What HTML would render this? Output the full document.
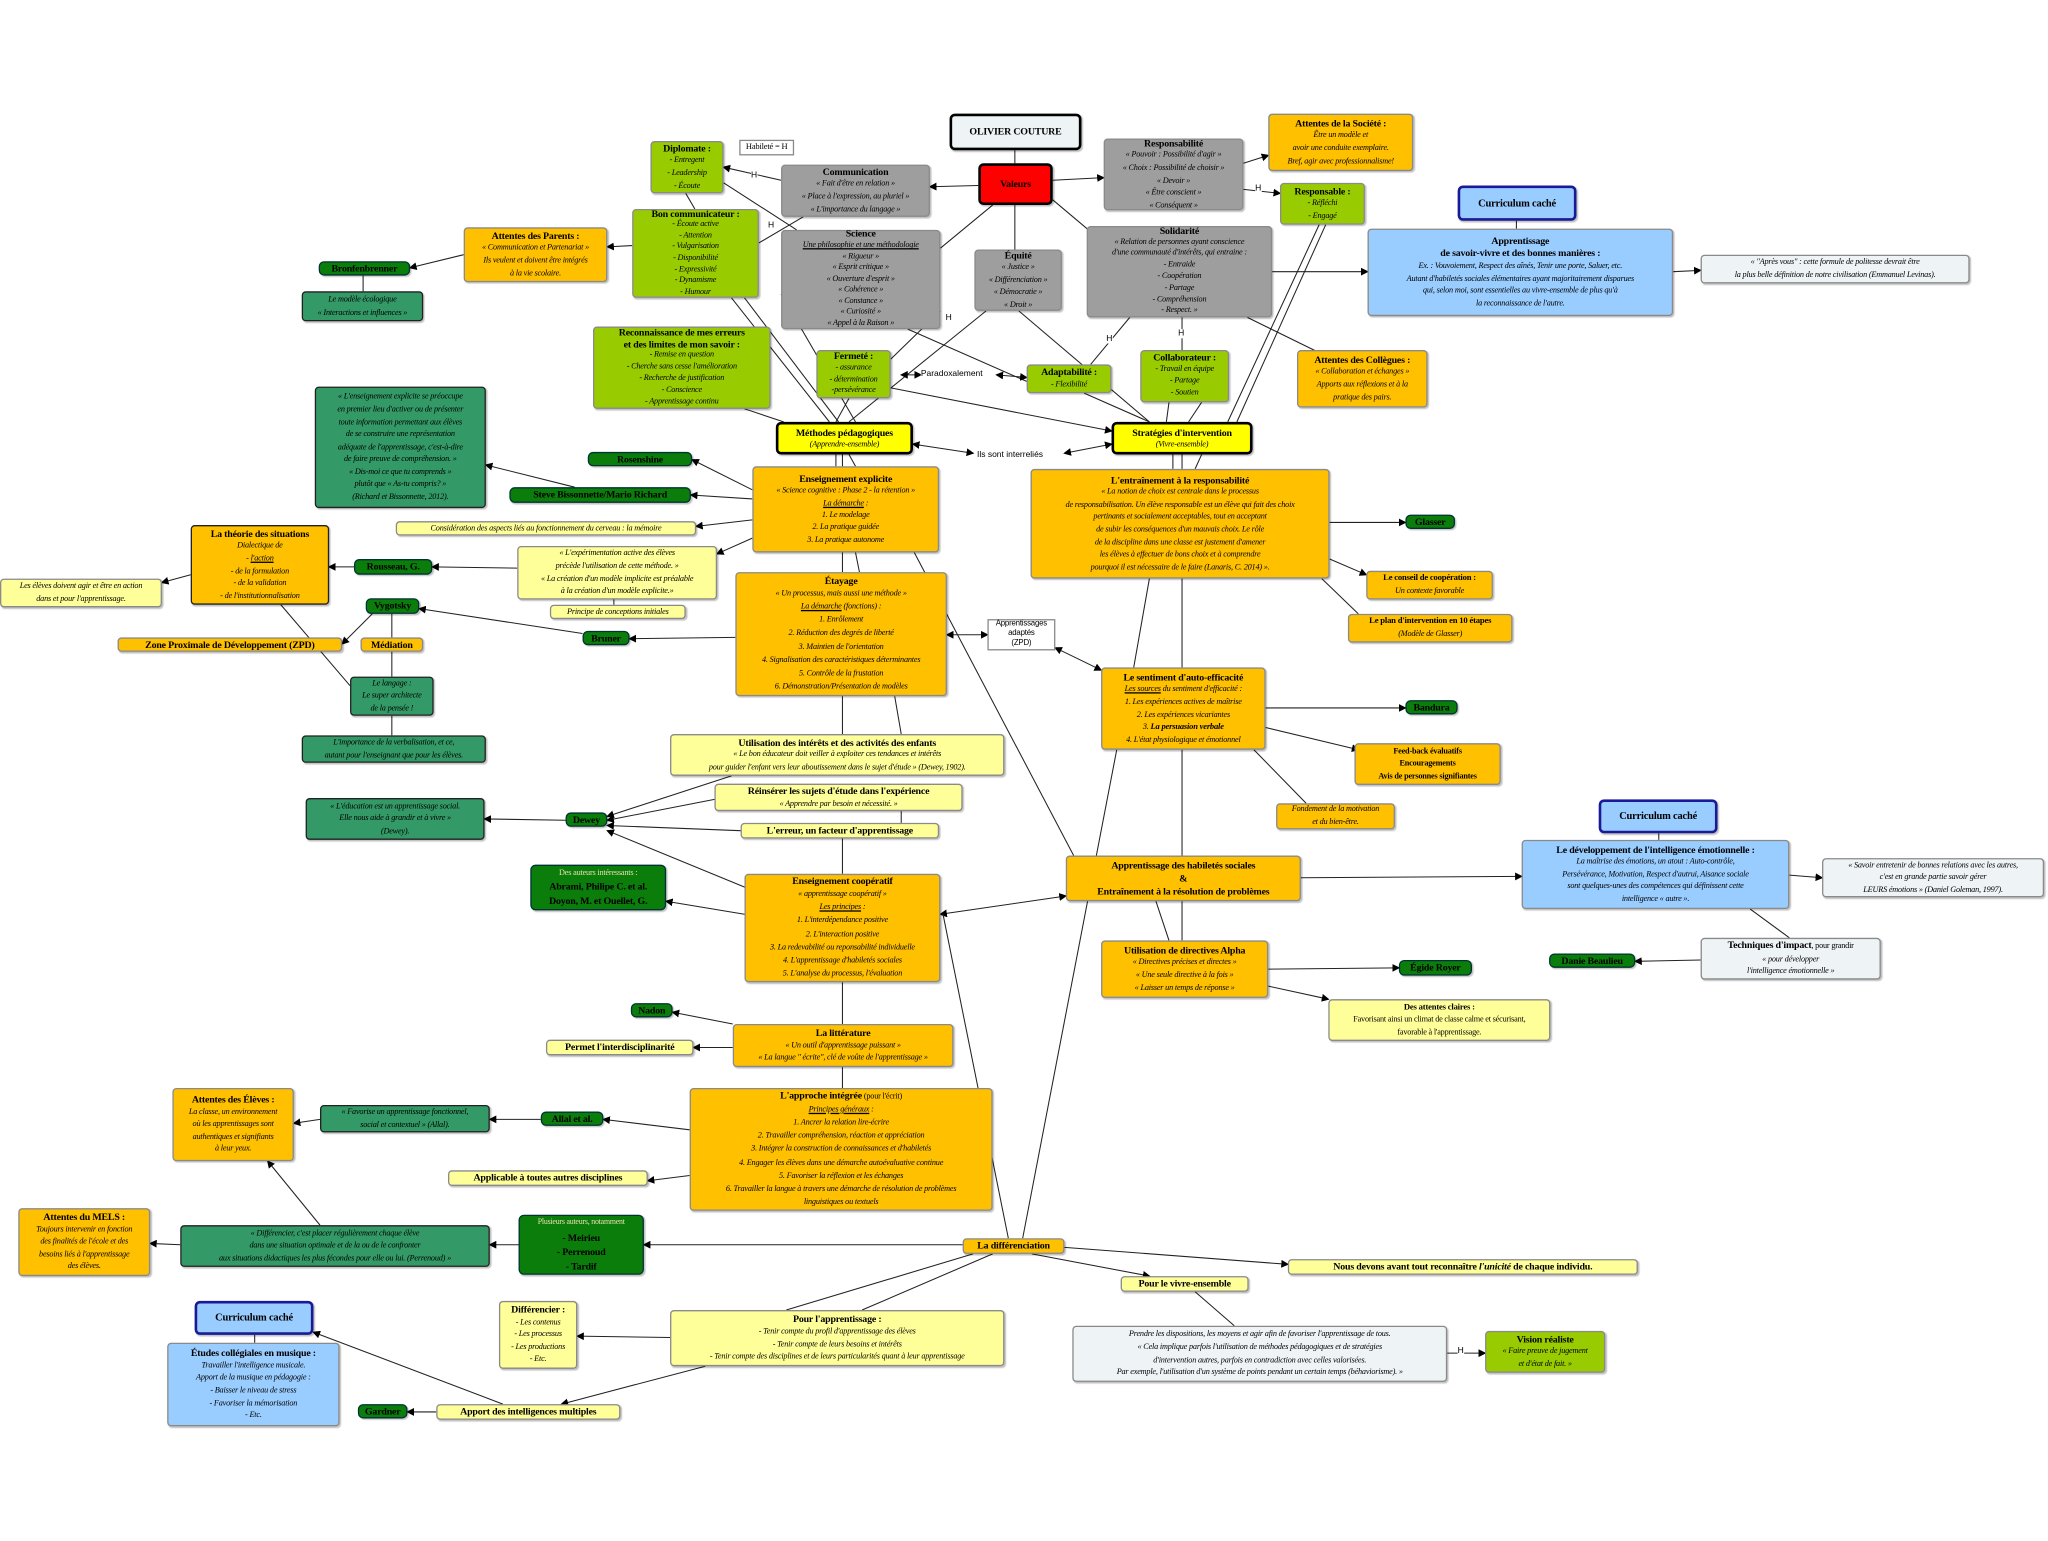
<!DOCTYPE html>
<html><head><meta charset="utf-8">
<style>
html,body{margin:0;padding:0;background:#fff;}
#root{position:relative;width:2048px;height:1541px;overflow:hidden;background:#fff;}
#w{position:absolute;left:0;top:0;width:1568px;height:1180px;transform:scale(1.30612);transform-origin:0 0;font-family:"Liberation Serif",serif;}
.b{position:absolute;box-sizing:border-box;border:1px solid #8a8a8a;border-radius:3px;display:flex;flex-direction:column;justify-content:center;align-items:center;text-align:center;font-size:6.3px;line-height:9.6px;white-space:nowrap;box-shadow:1px 1px 1px rgba(0,0,0,.25);letter-spacing:-0.15px;}
.b b{font-size:7.6px;}
.i{font-style:italic;}
.o{background:#ffc000;}
.g{background:#99cc00;}
.gr{background:#9e9e9e;}
.dg{background:#0b7d0b;border:1px solid #033;font-weight:bold;font-size:7.6px;border-radius:4px;}
.t{background:#339966;border:1px solid #222;}
.ly{background:#ffff99;}
.lb{background:#99ccff;}
.lg{background:#eef3f5;}
.yk{background:#ffff00;border:2.5px solid #000;border-radius:4px;}
.cc{background:#99ccff;border:2.5px solid #1a1a99;border-radius:4px;font-weight:bold;font-size:8px;}
svg{position:absolute;left:0;top:0;}
.u{text-decoration:underline;}
.lbl{position:absolute;font-family:"Liberation Sans",sans-serif;font-size:6.5px;white-space:nowrap;background:#fff;}
</style></head><body><div id="root"><div id="w">
<svg width="1568" height="1180" viewBox="0 0 1568 1180">
<defs><marker id="a" markerWidth="6" markerHeight="6" refX="5" refY="3" orient="auto" markerUnits="userSpaceOnUse"><path d="M0,0 L6,3 L0,6 z" fill="#000"/></marker>
<marker id="s" markerWidth="6" markerHeight="6" refX="1" refY="3" orient="auto" markerUnits="userSpaceOnUse"><path d="M6,0 L0,3 L6,6 z" fill="#000"/></marker></defs>
<g stroke="#222" stroke-width="0.8" fill="none">
<line x1="777" y1="115" x2="777" y2="125"/>
<line x1="749" y1="142" x2="712" y2="143" marker-end="url(#a)"/>
<line x1="806" y1="138" x2="845" y2="136" marker-end="url(#a)"/>
<line x1="760" y1="157" x2="720" y2="190"/>
<line x1="777" y1="157" x2="777" y2="191"/>
<line x1="806" y1="153" x2="850" y2="190"/>
<line x1="598" y1="138" x2="554" y2="128" marker-end="url(#a)"/>
<line x1="615" y1="166" x2="581" y2="186"/>
<line x1="952" y1="125" x2="971" y2="119" marker-end="url(#a)"/>
<line x1="952" y1="145" x2="980" y2="148" marker-end="url(#a)"/>
<line x1="974" y1="208" x2="1047" y2="208" marker-end="url(#a)"/>
<line x1="1281" y1="208" x2="1302" y2="207" marker-end="url(#a)"/>
<line x1="1161" y1="169" x2="1161" y2="175"/>
<line x1="484" y1="188" x2="465" y2="189" marker-end="url(#a)"/>
<line x1="355" y1="195" x2="314" y2="205" marker-end="url(#a)"/>
<line x1="278" y1="211" x2="278" y2="223"/>
<line x1="525" y1="148" x2="532" y2="160"/>
<line x1="554" y1="140" x2="610" y2="176"/>
<line x1="560" y1="228" x2="635" y2="323"/>
<line x1="570" y1="228" x2="642" y2="323"/>
<line x1="598" y1="225" x2="655" y2="323"/>
<line x1="720" y1="238" x2="682" y2="275"/>
<line x1="695" y1="252" x2="786" y2="292"/>
<line x1="755" y1="238" x2="650" y2="323"/>
<line x1="780" y1="238" x2="880" y2="323"/>
<line x1="865" y1="243" x2="835" y2="279"/>
<line x1="905" y1="243" x2="905" y2="268"/>
<line x1="955" y1="243" x2="1010" y2="270"/>
<line x1="1010" y1="172" x2="940" y2="323"/>
<line x1="1015" y1="172" x2="947" y2="323"/>
<line x1="690" y1="287" x2="705" y2="287" marker-start="url(#s)" marker-end="url(#a)"/>
<line x1="763" y1="287" x2="786" y2="289" marker-start="url(#s)" marker-end="url(#a)"/>
<line x1="682" y1="297" x2="851" y2="330" marker-end="url(#a)"/>
<line x1="650" y1="305" x2="640" y2="323"/>
<line x1="570" y1="313" x2="600" y2="323"/>
<line x1="830" y1="301" x2="880" y2="323"/>
<line x1="895" y1="308" x2="893" y2="323"/>
<line x1="920" y1="308" x2="910" y2="323"/>
<line x1="699" y1="340" x2="745" y2="347" marker-start="url(#s)" marker-end="url(#a)"/>
<line x1="815" y1="347" x2="851" y2="340" marker-start="url(#s)" marker-end="url(#a)"/>
<line x1="640" y1="348" x2="640" y2="357"/><line x1="645" y1="348" x2="645" y2="357"/><line x1="650" y1="348" x2="655" y2="357"/>
<line x1="898" y1="348" x2="898" y2="359"/><line x1="905" y1="348" x2="905" y2="359"/><line x1="920" y1="348" x2="915" y2="359"/>
<line x1="576" y1="375" x2="530" y2="352" marker-end="url(#a)"/>
<line x1="576" y1="382" x2="529" y2="379" marker-end="url(#a)"/>
<line x1="440" y1="373" x2="372" y2="356" marker-end="url(#a)"/>
<line x1="576" y1="398" x2="533" y2="403" marker-end="url(#a)"/>
<line x1="576" y1="412" x2="549" y2="424" marker-end="url(#a)"/>
<line x1="645" y1="423" x2="645" y2="438"/>
<line x1="655" y1="423" x2="658" y2="438"/>
<line x1="700" y1="423" x2="822" y2="655"/>
<line x1="396" y1="435" x2="331" y2="434" marker-end="url(#a)"/>
<line x1="271" y1="434" x2="252" y2="434" marker-end="url(#a)"/>
<line x1="146" y1="440" x2="124" y2="446" marker-end="url(#a)"/>
<line x1="470" y1="459" x2="470" y2="463"/>
<line x1="563" y1="488" x2="482" y2="489" marker-end="url(#a)"/>
<line x1="446" y1="485" x2="321" y2="466" marker-end="url(#a)"/>
<line x1="285" y1="470" x2="262" y2="493" marker-end="url(#a)"/>
<line x1="300" y1="470" x2="300" y2="488"/>
<line x1="300" y1="499" x2="300" y2="518"/>
<line x1="300" y1="548" x2="300" y2="563"/>
<line x1="215" y1="463" x2="268" y2="525"/>
<line x1="725" y1="486" x2="756" y2="486" marker-start="url(#s)" marker-end="url(#a)"/>
<line x1="808" y1="496" x2="843" y2="513" marker-start="url(#s)" marker-end="url(#a)"/>
<line x1="1018" y1="400" x2="1076" y2="400" marker-end="url(#a)"/>
<line x1="1018" y1="428" x2="1046" y2="440" marker-end="url(#a)"/>
<line x1="1012" y1="443" x2="1040" y2="470"/>
<line x1="905" y1="443" x2="905" y2="511"/>
<line x1="880" y1="443" x2="868" y2="511"/>
<line x1="969" y1="542" x2="1076" y2="542" marker-end="url(#a)"/>
<line x1="969" y1="557" x2="1040" y2="574" marker-end="url(#a)"/>
<line x1="960" y1="574" x2="1000" y2="615"/>
<line x1="905" y1="574" x2="905" y2="655"/>
<line x1="855" y1="574" x2="783" y2="948"/>
<line x1="645" y1="533" x2="645" y2="562"/>
<line x1="685" y1="533" x2="690" y2="562"/>
<line x1="560" y1="594" x2="465" y2="625" marker-end="url(#a)"/>
<line x1="547" y1="612" x2="465" y2="628" marker-end="url(#a)"/>
<line x1="567" y1="636" x2="465" y2="632" marker-end="url(#a)"/>
<line x1="433" y1="628" x2="371" y2="627" marker-end="url(#a)"/>
<line x1="572" y1="680" x2="465" y2="636" marker-end="url(#a)"/>
<line x1="570" y1="700" x2="510" y2="690" marker-end="url(#a)"/>
<line x1="720" y1="700" x2="816" y2="686" marker-start="url(#s)" marker-end="url(#a)"/>
<line x1="645" y1="642" x2="645" y2="669"/>
<line x1="690" y1="621" x2="690" y2="630"/>
<line x1="996" y1="672" x2="1165" y2="671" marker-end="url(#a)"/>
<line x1="1370" y1="670" x2="1395" y2="672" marker-end="url(#a)"/>
<line x1="1270" y1="638" x2="1270" y2="643"/>
<line x1="1340" y1="696" x2="1370" y2="718"/>
<line x1="1302" y1="735" x2="1252" y2="736" marker-end="url(#a)"/>
<line x1="905" y1="690" x2="905" y2="720"/>
<line x1="885" y1="690" x2="895" y2="720"/>
<line x1="971" y1="742" x2="1071" y2="741" marker-end="url(#a)"/>
<line x1="971" y1="755" x2="1017" y2="765" marker-end="url(#a)"/>
<line x1="645" y1="752" x2="645" y2="784"/>
<line x1="561" y1="784" x2="515" y2="775" marker-end="url(#a)"/>
<line x1="561" y1="802" x2="531" y2="802" marker-end="url(#a)"/>
<line x1="645" y1="817" x2="645" y2="833"/>
<line x1="528" y1="865" x2="462" y2="857" marker-end="url(#a)"/>
<line x1="414" y1="857" x2="375" y2="857" marker-end="url(#a)"/>
<line x1="245" y1="857" x2="225" y2="860" marker-end="url(#a)"/>
<line x1="528" y1="900" x2="496" y2="904" marker-end="url(#a)"/>
<line x1="722" y1="700" x2="772" y2="948"/>
<line x1="737" y1="953" x2="493" y2="953" marker-end="url(#a)"/>
<line x1="397" y1="953" x2="375" y2="953" marker-end="url(#a)"/>
<line x1="138" y1="953" x2="115" y2="952" marker-end="url(#a)"/>
<line x1="245" y1="938" x2="205" y2="889" marker-end="url(#a)"/>
<line x1="815" y1="955" x2="986" y2="968" marker-end="url(#a)"/>
<line x1="790" y1="960" x2="880" y2="977" marker-end="url(#a)"/>
<line x1="745" y1="960" x2="602" y2="1003"/>
<line x1="760" y1="960" x2="660" y2="1003"/>
<line x1="915" y1="989" x2="945" y2="1015"/>
<line x1="1108" y1="1036" x2="1137" y2="1036" marker-end="url(#a)"/>
<line x1="513" y1="1024" x2="442" y2="1023" marker-end="url(#a)"/>
<line x1="540" y1="1046" x2="430" y2="1075" marker-end="url(#a)"/>
<line x1="334" y1="1081" x2="312" y2="1081" marker-end="url(#a)"/>
<line x1="385" y1="1075" x2="240" y2="1020" marker-end="url(#a)"/>
<line x1="195" y1="1022" x2="195" y2="1028"/>
</g></svg>
<div class="lbl" style="left:575px;top:131px">H</div>
<div class="lbl" style="left:588px;top:169px">H</div>
<div class="lbl" style="left:961px;top:141px">H</div>
<div class="lbl" style="left:724px;top:240px">H</div>
<div class="lbl" style="left:847px;top:256px">H</div>
<div class="lbl" style="left:902px;top:252px">H</div>
<div class="lbl" style="left:1116px;top:1031px">H</div>
<div class="lbl" style="left:705px;top:283px">Paradoxalement</div>
<div class="lbl" style="left:748px;top:345px">Ils sont interreliés</div>

<div class="b lg" style="left:727px;top:87px;width:101px;height:28px;border:2.5px solid #000;border-radius:4px;"><b>OLIVIER COUTURE</b></div>
<div class="b" style="left:749px;top:125px;width:57px;height:32px;background:#ff0000;border:2.5px solid #000;border-radius:4px;"><b>Valeurs</b></div>
<div class="b" style="left:566px;top:107px;width:42px;height:12px;background:#fff;border-radius:0;box-shadow:none;font-size:6.5px;">Habileté = H</div>
<div class="b g" style="left:498px;top:108px;width:56px;height:40px;"><b>Diplomate :</b><span class="i">- Entregent<br>- Leadership<br>- Écoute</span></div>
<div class="b gr" style="left:598px;top:126px;width:114px;height:40px;"><b>Communication</b><span class="i">« Fait d'être en relation »<br>« Place à l'expression, au pluriel »<br>« L'importance du langage »</span></div>
<div class="b gr" style="left:845px;top:106px;width:107px;height:55px;"><b>Responsabilité</b><span class="i">« Pouvoir : Possibilité d'agir »<br>« Choix : Possibilité de choisir »<br>« Devoir »<br>« Être conscient »<br>« Conséquent »</span></div>
<div class="b o" style="left:971px;top:87px;width:111px;height:44px;"><b>Attentes de la Société :</b><span class="i">Être un modèle et<br>avoir une conduite exemplaire.<br>Bref, agir avec professionnalisme!</span></div>
<div class="b g" style="left:980px;top:140px;width:65px;height:32px;"><b>Responsable :</b><span class="i">- Réfléchi<br>- Engagé</span></div>
<div class="b cc" style="left:1116px;top:142px;width:91px;height:27px;">Curriculum caché</div>
<div class="b lb" style="left:1047px;top:175px;width:234px;height:67px;"><b>Apprentissage<br>de savoir-vivre et des bonnes manières :</b><span class="i">Ex. :  Vouvoiement, Respect des aînés, Tenir une porte, Saluer, etc.<br>Autant d'habiletés sociales élémentaires ayant majoritairement disparues<br>qui, selon moi, sont essentielles au vivre-ensemble de plus qu'à<br>la reconnaissance de l'autre.</span></div>
<div class="b lg" style="left:1302px;top:195px;width:206px;height:22px;"><span class="i">« "Après vous" : cette formule de politesse devrait être<br>la plus belle définition de notre civilisation (Emmanuel Levinas).</span></div>
<div class="b o" style="left:355px;top:174px;width:110px;height:42px;"><b>Attentes des Parents :</b><span class="i">« Communication et Partenariat »<br>Ils veulent et doivent être intégrés<br>à la vie scolaire.</span></div>
<div class="b g" style="left:484px;top:160px;width:97px;height:68px;line-height:8.6px;"><b>Bon communicateur :</b><span class="i">- Écoute active<br>- Attention<br>- Vulgarisation<br>- Disponibilité<br>- Expressivité<br>- Dynamisme<br>- Humour</span></div>
<div class="b gr" style="left:598px;top:176px;width:122px;height:76px;line-height:8.6px;"><b>Science</b><span class="i"><span class="u">Une philosophie et une méthodologie</span><br>« Rigueur »<br>« Esprit critique »<br>« Ouverture d'esprit »<br>« Cohérence »<br>« Constance »<br>« Curiosité »<br>« Appel à la Raison »</span></div>
<div class="b gr" style="left:746px;top:191px;width:67px;height:47px;"><b>Équité</b><span class="i">« Justice »<br>« Différenciation »<br>« Démocratie »<br>« Droit »</span></div>
<div class="b gr" style="left:832px;top:173px;width:142px;height:70px;line-height:8.8px;"><b>Solidarité</b><span class="i">« Relation de personnes ayant conscience<br>d'une communauté d'intérêts, qui entraine :<br>- Entraide<br>- Coopération<br>- Partage<br>- Compréhension<br>- Respect. »</span></div>
<div class="b dg" style="left:244px;top:200px;width:70px;height:11px;">Bronfenbrenner</div>
<div class="b t" style="left:231px;top:223px;width:93px;height:23px;"><span class="i">Le modèle écologique<br>« Interactions et influences »</span></div>
<div class="b g" style="left:454px;top:250px;width:136px;height:63px;line-height:8.8px;"><b>Reconnaissance de mes erreurs<br>et des limites de mon savoir :</b><span class="i">- Remise en question<br>- Cherche sans cesse l'amélioration<br>- Recherche de justification<br>- Conscience<br>- Apprentissage continu</span></div>
<div class="b g" style="left:625px;top:268px;width:57px;height:37px;line-height:8.8px;"><b>Fermeté :</b><span class="i">- assurance<br>- détermination<br>-persévérance</span></div>
<div class="b g" style="left:786px;top:279px;width:65px;height:22px;"><b>Adaptabilité :</b><span class="i">- Flexibilité</span></div>
<div class="b g" style="left:873px;top:268px;width:68px;height:40px;line-height:8.8px;"><b>Collaborateur :</b><span class="i">- Travail en équipe<br>- Partage<br>- Soutien</span></div>
<div class="b o" style="left:993px;top:268px;width:100px;height:44px;"><b>Attentes des Collègues :</b><span class="i">« Collaboration et échanges »<br>Apports aux réflexions et à la<br>pratique des pairs.</span></div>
<div class="b yk" style="left:594px;top:323px;width:105px;height:25px;line-height:9px;"><b>Méthodes pédagogiques</b><span class="i">(Apprendre-ensemble)</span></div>
<div class="b yk" style="left:851px;top:323px;width:108px;height:25px;line-height:9px;"><b>Stratégies d'intervention</b><span class="i">(Vivre-ensemble)</span></div>
<div class="b t" style="left:241px;top:296px;width:131px;height:93px;"><span class="i">« L'enseignement explicite se préoccupe<br>en premier lieu d'activer ou de présenter<br>toute information permettant aux élèves<br>de se construire une représentation<br>adéquate de l'apprentissage, c'est-à-dire<br>de faire preuve de compréhension. »<br>« Dis-moi ce que tu comprends »<br>plutôt que « As-tu compris? »<br>(Richard et Bissonnette, 2012).</span></div>
<div class="b dg" style="left:450px;top:346px;width:80px;height:11px;">Rosenshine</div>
<div class="b dg" style="left:390px;top:373px;width:139px;height:12px;">Steve Bissonnette/Mario Richard</div>
<div class="b o" style="left:576px;top:357px;width:143px;height:66px;line-height:9.4px;"><b>Enseignement explicite</b><span class="i">« Science cognitive : Phase 2 - la rétention »<br><span class="u">La démarche</span> :<br>1. Le modelage<br>2. La pratique guidée<br>3. La pratique autonome</span></div>
<div class="b o" style="left:789px;top:359px;width:229px;height:84px;line-height:9.6px;"><b>L'entraînement à la responsabilité</b><span class="i">« La notion de choix est centrale dans le processus<br>de responsabilisation. Un élève responsable est un élève qui fait des choix<br>pertinants et socialement acceptables, tout en acceptant<br>de subir les conséquences d'un mauvais choix. Le rôle<br>de la discipline dans une classe est justement d'amener<br>les élèves à effectuer de bons choix et à comprendre<br>pourquoi il est nécessaire de le faire (Lanaris, C. 2014) ».</span></div>
<div class="b dg" style="left:1076px;top:394px;width:38px;height:11px;">Glasser</div>
<div class="b ly" style="left:303px;top:399px;width:230px;height:11px;"><span class="i">Considération des aspects liés au fonctionnement du cerveau : la mémoire</span></div>
<div class="b o" style="left:146px;top:402px;width:106px;height:61px;border:1.5px solid #222;line-height:9.6px;"><b>La théorie des situations</b><span class="i">Dialectique de<br>- <span class="u">l'action</span><br>- de la formulation<br>- de la validation<br>- de l'institutionnalisation</span></div>
<div class="b dg" style="left:271px;top:428px;width:60px;height:12px;">Rousseau, G.</div>
<div class="b ly" style="left:396px;top:418px;width:153px;height:41px;"><span class="i">« L'expérimentation active des élèves<br>précède l'utilisation de cette méthode. »<br>« La création d'un modèle implicite est préalable<br>à la création d'un modèle explicite.»</span></div>
<div class="b ly" style="left:0px;top:443px;width:124px;height:22px;"><span class="i">Les élèves doivent agir et être en action<br>dans et pour l'apprentissage.</span></div>
<div class="b o" style="left:1046px;top:437px;width:97px;height:22px;"><b style="font-size:6.6px">Le conseil de coopération :</b><span class="i">Un contexte favorable</span></div>
<div class="b ly" style="left:421px;top:463px;width:104px;height:11px;"><span class="i">Principe de conceptions initiales</span></div>
<div class="b o" style="left:563px;top:438px;width:162px;height:95px;line-height:10.2px;"><b>Étayage</b><span class="i">« Un processus, mais aussi une méthode »<br><span class="u">La démarche</span> (fonctions) :<br>1. Enrôlement<br>2. Réduction des degrés de liberté<br>3. Maintien de l'orientation<br>4. Signalisation des caractéristiques déterminantes<br>5. Contrôle de la frustation<br>6. Démonstration/Présentation de modèles</span></div>
<div class="b dg" style="left:280px;top:458px;width:41px;height:12px;">Vygotsky</div>
<div class="b o" style="left:90px;top:488px;width:172px;height:11px;"><b>Zone Proximale de Développement (ZPD)</b></div>
<div class="b o" style="left:276px;top:488px;width:48px;height:11px;"><b>Médiation</b></div>
<div class="b dg" style="left:446px;top:483px;width:36px;height:11px;">Bruner</div>
<div class="b" style="left:756px;top:474px;width:52px;height:24px;background:#fff;border-radius:0;box-shadow:none;font-family:'Liberation Sans',sans-serif;font-size:6px;line-height:7.5px;">Apprentissages<br>adaptés<br>(ZPD)</div>
<div class="b o" style="left:1032px;top:470px;width:126px;height:22px;"><b style="font-size:6.6px">Le plan d'intervention en 10 étapes</b><span class="i">(Modèle de Glasser)</span></div>
<div class="b t" style="left:268px;top:518px;width:64px;height:30px;"><span class="i">Le langage :<br>Le super architecte<br>de la pensée !</span></div>
<div class="b o" style="left:843px;top:511px;width:126px;height:63px;line-height:9.6px;"><b>Le sentiment d'auto-efficacité</b><span class="i"><span class="u">Les sources</span>  du sentiment d'efficacité :<br>1. Les expériences actives de maîtrise<br>2. Les expériences vicariantes<br>3.  <b style="font-size:6.5px">La persuasion verbale</b><br>4. L'état physiologique et émotionnel</span></div>
<div class="b dg" style="left:1076px;top:536px;width:40px;height:11px;">Bandura</div>
<div class="b ly" style="left:513px;top:562px;width:256px;height:32px;"><b>Utilisation des intérêts et des activités des enfants</b><span class="i">« Le bon éducateur doit veiller à exploiter ces tendances et intérêts<br>pour guider l'enfant vers leur aboutissement dans le sujet d'étude » (Dewey, 1902).</span></div>
<div class="b t" style="left:231px;top:563px;width:141px;height:21px;"><span class="i">L'importance de la verbalisation, et ce,<br>autant pour l'enseignant que pour les élèves.</span></div>
<div class="b o" style="left:1037px;top:569px;width:112px;height:32px;font-weight:bold;"><span>Feed-back évaluatifs<br>Encouragements<br>Avis de personnes signifiantes</span></div>
<div class="b ly" style="left:547px;top:600px;width:190px;height:21px;"><b>Réinsérer les sujets d'étude dans l'expérience</b><span class="i">« Apprendre par besoin et nécessité. »</span></div>
<div class="b t" style="left:234px;top:611px;width:137px;height:32px;"><span class="i">« L'éducation est un apprentissage social.<br>Elle nous aide à grandir et à vivre »<br>(Dewey).</span></div>
<div class="b dg" style="left:433px;top:622px;width:32px;height:11px;">Dewey</div>
<div class="b o" style="left:977px;top:615px;width:91px;height:20px;"><span class="i">Fondement de la motivation<br>et du bien-être.</span></div>
<div class="b ly" style="left:567px;top:630px;width:152px;height:12px;"><b>L'erreur, un facteur d'apprentissage</b></div>
<div class="b cc" style="left:1224px;top:612px;width:91px;height:26px;">Curriculum caché</div>
<div class="b lb" style="left:1165px;top:643px;width:205px;height:53px;"><b>Le développement de l'intelligence émotionnelle :</b><span class="i">La maîtrise des émotions, un atout : Auto-contrôle,<br>Persévérance, Motivation, Respect d'autrui, Aisance sociale<br>sont quelques-unes des compétences qui définissent cette<br>intelligence « autre ».</span></div>
<div class="b lg" style="left:1395px;top:657px;width:170px;height:30px;"><span class="i">« Savoir entretenir de bonnes relations avec les autres,<br>c'est en grande partie savoir gérer<br>LEURS émotions » (Daniel Goleman, 1997).</span></div>
<div class="b o" style="left:816px;top:655px;width:180px;height:35px;line-height:10px;"><b>Apprentissage des habiletés sociales<br>&amp;<br>Entraînement à la résolution de problèmes</b></div>
<div class="b dg" style="left:406px;top:662px;width:104px;height:35px;font-weight:normal;line-height:10.5px;"><span style="font-size:6.3px;color:#e8e0b0">Des auteurs intéressants :</span><b>Abrami, Philipe C. et al.<br>Doyon, M. et Ouellet, G.</b></div>
<div class="b o" style="left:570px;top:669px;width:150px;height:83px;line-height:10.2px;"><b>Enseignement coopératif</b><span class="i">« apprentissage coopératif »<br><span class="u">Les principes</span> :<br>1. L'interdépendance positive<br>2. L'interaction positive<br>3. La redevabilité ou reponsabilité individuelle<br>4. L'apprentissage d'habiletés sociales<br>5. L'analyse du processus, l'évaluation</span></div>
<div class="b o" style="left:843px;top:720px;width:128px;height:44px;"><b>Utilisation de directives Alpha</b><span class="i">« Directives précises et directes »<br>« Une seule directive à la fois »<br>« Laisser un temps de réponse »</span></div>
<div class="b lg" style="left:1302px;top:718px;width:138px;height:32px;"><span><b>Techniques d'impact</b>, pour grandir</span><span class="i">« pour développer<br>l'intelligence émotionnelle »</span></div>
<div class="b dg" style="left:1186px;top:730px;width:66px;height:11px;">Danie Beaulieu</div>
<div class="b dg" style="left:1071px;top:735px;width:56px;height:12px;">Égide Royer</div>
<div class="b ly" style="left:1017px;top:765px;width:170px;height:32px;"><b style="font-size:6.6px">Des attentes claires :</b><span>Favorisant ainsi un climat de classe calme et sécurisant,<br>favorable à l'apprentissage.</span></div>
<div class="b dg" style="left:483px;top:768px;width:32px;height:11px;">Nadon</div>
<div class="b o" style="left:561px;top:784px;width:169px;height:33px;"><b>La littérature</b><span class="i">« Un outil d'apprentissage puissant »<br>« La langue " écrite", clé de voûte de l'apprentissage »</span></div>
<div class="b ly" style="left:418px;top:796px;width:113px;height:12px;"><b>Permet l'interdisciplinarité</b></div>
<div class="b o" style="left:528px;top:833px;width:232px;height:94px;line-height:10.2px;"><span><b>L'approche intégrée</b> (pour l'écrit)</span><span class="i"><span class="u">Principes généraux</span> :<br>1. Ancrer la relation lire-écrire<br>2. Travailler compréhension, réaction et appréciation<br>3. Intégrer la construction de connaissances et d'habiletés<br>4. Engager les élèves dans une démarche autoévaluative continue<br>5. Favoriser la réflexion et les échanges<br>6. Travailler la langue à travers une démarche de résolution de problèmes<br>linguistiques ou textuels</span></div>
<div class="b o" style="left:132px;top:833px;width:93px;height:56px;"><b>Attentes des Élèves :</b><span class="i">La classe, un environnement<br>où les apprentissages sont<br>authentiques et signifiants<br>à leur yeux.</span></div>
<div class="b t" style="left:245px;top:846px;width:130px;height:21px;"><span class="i">« Favorise un apprentissage fonctionnel,<br>social et contextuel » (Allal).</span></div>
<div class="b dg" style="left:414px;top:851px;width:48px;height:11px;">Allal et al.</div>
<div class="b ly" style="left:343px;top:896px;width:153px;height:12px;"><b>Applicable à toutes autres disciplines</b></div>
<div class="b o" style="left:14px;top:925px;width:101px;height:52px;"><b>Attentes du MELS :</b><span class="i">Toujours intervenir en fonction<br>des finalités de l'école et des<br>besoins liés à l'apprentissage<br>des élèves.</span></div>
<div class="b t" style="left:138px;top:938px;width:237px;height:32px;"><span class="i">« Différencier, c'est placer régulièrement chaque élève<br>dans une situation optimale et de la ou de le confronter<br>aux situations didactiques les plus fécondes pour elle ou lui. (Perrenoud) »</span></div>
<div class="b dg" style="left:397px;top:930px;width:96px;height:46px;font-weight:normal;line-height:11px;"><span style="font-size:6px;color:#e8e0b0">Plusieurs auteurs, notamment</span><b>- Meirieu<br>- Perrenoud<br>- Tardif</b></div>
<div class="b o" style="left:737px;top:948px;width:78px;height:12px;"><b>La différenciation</b></div>
<div class="b ly" style="left:986px;top:964px;width:268px;height:12px;"><b>Nous devons avant tout reconnaître <i>l'unicité</i>  de chaque individu.</b></div>
<div class="b ly" style="left:858px;top:977px;width:98px;height:12px;"><b>Pour le vivre-ensemble</b></div>
<div class="b cc" style="left:149px;top:996px;width:91px;height:26px;">Curriculum caché</div>
<div class="b ly" style="left:382px;top:996px;width:60px;height:52px;"><b>Différencier :</b><span class="i">- Les contenus<br>- Les processus<br>- Les productions<br>- Etc.</span></div>
<div class="b ly" style="left:513px;top:1003px;width:256px;height:43px;"><b>Pour l'apprentissage :</b><span class="i">- Tenir compte du profil d'apprentissage des élèves<br>- Tenir compte de leurs besoins et intérêts<br>- Tenir compte des disciplines et de leurs particularités quant à leur apprentissage</span></div>
<div class="b lg" style="left:821px;top:1015px;width:287px;height:43px;"><span class="i">Prendre les dispositions, les moyens et agir afin de favoriser l'apprentissage de tous.<br>« Cela implique parfois l'utilisation de méthodes pédagogiques et de stratégies<br>d'intervention autres, parfois en contradiction avec celles valorisées.<br>Par exemple, l'utilisation d'un système de points pendant un certain temps (béhaviorisme). »</span></div>
<div class="b g" style="left:1137px;top:1019px;width:92px;height:32px;"><b>Vision réaliste</b><span class="i">« Faire preuve de jugement<br>et d'état de fait. »</span></div>
<div class="b lb" style="left:128px;top:1028px;width:132px;height:64px;"><b>Études collégiales en musique :</b><span class="i">Travailler l'intelligence musicale.<br>Apport de la musique en pédagogie :<br>- Baisser le niveau de stress<br>- Favoriser la mémorisation<br>- Etc.</span></div>
<div class="b dg" style="left:274px;top:1075px;width:38px;height:11px;">Gardner</div>
<div class="b ly" style="left:334px;top:1075px;width:141px;height:12px;"><b>Apport des intelligences multiples</b></div>
</div></div></body></html>
